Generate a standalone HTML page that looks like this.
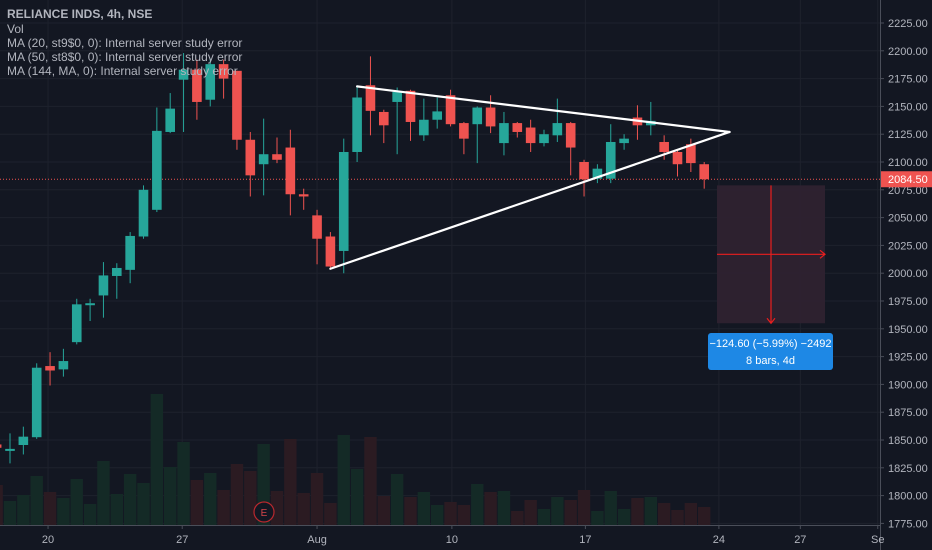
<!DOCTYPE html>
<html><head><meta charset="utf-8"><style>
html,body{margin:0;padding:0;background:#131722;}
svg{display:block;font-family:"Liberation Sans",sans-serif;}
</style></head><body>
<svg id="chart" width="932" height="550" viewBox="0 0 932 550" xmlns="http://www.w3.org/2000/svg">
<rect x="0" y="0" width="932" height="550" fill="#131722"/>
<g id="grid"></g>
<g id="vol"></g>
<g id="candles"></g>
<g id="draw"></g>
<g id="axes"></g>
<g font-size="12" fill="#b2b5be">
<text x="7" y="18" font-weight="bold">RELIANCE INDS, 4h, NSE</text>
<text x="7" y="33">Vol</text>
<text x="7" y="47">MA (20, st9$0, 0): Internal server study error</text>
<text x="7" y="61">MA (50, st8$0, 0): Internal server study error</text>
<text x="7" y="75">MA (144, MA, 0): Internal server study error</text>
</g>
</svg>
<script>
const opens  = [1846,1841,1845.5,1852.5,1916.5,1913.5,1938,1972,1980,1997.5,2003,2033,2057,2127,2174,2183,2156,2188,2182,2120,2098,2107,2113,2071,2052,2033,2020,2109,2169,2145,2154,2164,2124,2138,2160,2135,2134,2149,2117,2135,2131,2117,2124,2135,2100,2085,2085,2117,2140,2133,2118,2109,2116,2098];
const highs  = [1848,1856,1862,1919,1929,1932,1977,1977,2010,2009,2037,2079,2149,2162,2198,2192,2193,2192,2182,2127,2139,2122,2129,2076,2057,2037,2121,2168,2195,2147,2167,2165,2157,2158,2165,2136,2150,2160,2145,2136,2138,2129,2157,2136,2102,2098,2134,2125,2151,2154,2124,2110,2121,2100];
const lows   = [1840,1829,1837,1851,1899,1907,1936,1957,1960,1977,1991,2031,2055,2126,2127,2138,2150,2157,2111,2069,2070,2099,2052,2057,2008,2004,2000,2100,2124,2117,2107,2119,2119,2130,2132,2107,2099,2126,2106,2122,2109,2114,2118,2088,2069,2081,2081,2111,2120,2124,2102,2087,2091,2076];
const closes = [1843,1842,1853,1915,1912.5,1921,1972,1973,1998,2004.7,2033.5,2075,2128,2148,2183,2154,2188,2175,2120,2088,2107,2102,2071,2069,2031,2006,2109,2158,2146,2133,2163,2136,2138,2145.5,2134,2121,2149,2132,2135,2127,2117,2125,2135,2113,2084.5,2094,2118,2121,2133,2137,2109,2098,2099,2084.5];
const volumes = [40,24,30,49,33,27,46,21,64,31,51,42,131,58,83,45,52,35,61,54,81,34,86,32,52,22,90,56,88,29,51,28,33,20,23,20,41,33,34,14,25,16,28,25,35,14,34,16,27,28,22,15,22,18];
const priceTicks = [1775,1800,1825,1850,1875,1900,1925,1950,1975,2000,2025,2050,2075,2100,2125,2150,2175,2200,2225];
const dateLabels = ["20","27","Aug","10","17","24","27","Se"];
const datePos = [3.85,13.9,24,34.1,44.1,54.1,60.2,66];
const lastPrice = 2084.50;

const NS="http://www.w3.org/2000/svg";
const PW=880;
function py(p){return 162+(2100-p)*1.112;}
function bx(i){return -3.35+i*13.35;}
function vy(v){return 525-v;}
function mk(parent,tag,attrs){const e=document.createElementNS(NS,tag);for(const k in attrs)e.setAttribute(k,attrs[k]);parent.appendChild(e);return e;}
const grid=document.getElementById('grid'),vol=document.getElementById('vol'),cg=document.getElementById('candles'),dg=document.getElementById('draw'),ax=document.getElementById('axes');

priceTicks.forEach(t=>{
  const l=mk(grid,'line',{x1:0,x2:PW,y1:py(t),y2:py(t),stroke:'#1e222d','stroke-width':1});
  
  
});
datePos.forEach(d=>{
  const l=mk(grid,'line',{x1:bx(d),x2:bx(d),y1:0,y2:525,stroke:'#1e222d','stroke-width':1});
  
  
});

volumes.forEach((v,i)=>{
  const up=closes[i]>=opens[i];
  const r=mk(vol,'rect',{x:bx(i)-6.2,y:vy(v),width:12.4,height:v,fill:up?'#142a26':'#2b1b22'});
  
  
});

const pl=mk(grid,'line',{x1:0,x2:PW,y1:py(lastPrice),y2:py(lastPrice),stroke:'#ef5350','stroke-width':1,'stroke-dasharray':'1 2'});



opens.forEach((o,i)=>{
  const c=closes[i],up=c>=o,col=up?'#26a69a':'#ef5350',x=bx(i);
  const g=mk(cg,'g',{});
  
  
  mk(g,'line',{x1:x,x2:x,y1:py(highs[i]),y2:py(lows[i]),stroke:col,'stroke-width':1});
  const top=py(Math.max(o,c)),h=Math.max(2,Math.abs(py(o)-py(c)));
  mk(g,'rect',{x:x-4.8,y:top,width:9.6,height:h,fill:col});
});

const tlA=[[25,2004],[54.9,2127]],tlB=[[27,2168],[54.9,2127]];
[tlA,tlB].forEach((t,k)=>{
  const l=mk(dg,'line',{x1:bx(t[0][0]),y1:py(t[0][1]),x2:bx(t[1][0]),y2:py(t[1][1]),stroke:'#ffffff','stroke-width':2.2,'stroke-linecap':'round'});
  
  
});

const mx0=717,mx1=825,my0=py(2079),my1=py(1955),mcx=771,mcy=254.3;
const mb=mk(dg,'rect',{x:mx0,y:my0,width:mx1-mx0,height:my1-my0,fill:'#2e2230','fill-opacity':0.95});


const ma=mk(dg,'path',{d:`M${mcx} ${my0}V${my1}M${mcx-4} ${my1-5}L${mcx} ${my1}L${mcx+4} ${my1-5}M${mx0} ${mcy}H${mx1}M${mx1-5} ${mcy-4}L${mx1} ${mcy}L${mx1-5} ${mcy+4}`,stroke:'#e91e1e','stroke-width':1.2,fill:'none'});


const tip=mk(dg,'rect',{x:708,y:333,width:125,height:37,rx:3,fill:'#1e88e5'});


const t1=mk(dg,'text',{x:770.5,y:347,'text-anchor':'middle','font-size':11,fill:'#ffffff'});
t1.textContent='\u2212124.60 (\u22125.99%) \u22122492';


const t2=mk(dg,'text',{x:770.5,y:364,'text-anchor':'middle','font-size':11,fill:'#ffffff'});
t2.textContent='8 bars, 4d';



const eg=mk(dg,'g',{});


mk(eg,'circle',{cx:264,cy:512,r:10,fill:'#131722',stroke:'#b8282e','stroke-width':1.2});
const et=mk(eg,'text',{x:264,y:516,'text-anchor':'middle','font-size':10,fill:'#d6454a'});
et.textContent='E';

mk(ax,'rect',{x:PW,y:0,width:52,height:550,fill:'#131722'});
mk(ax,'rect',{x:0,y:525,width:PW,height:25,fill:'#131722'});
mk(ax,'line',{x1:PW+0.5,x2:PW+0.5,y1:0,y2:550,stroke:'#4a4e59','stroke-width':1});
mk(ax,'line',{x1:0,x2:PW,y1:525.5,y2:525.5,stroke:'#4a4e59','stroke-width':1});
priceTicks.forEach(t=>{
  mk(ax,'line',{x1:PW,x2:PW+4,y1:py(t),y2:py(t),stroke:'#4a4e59'});
  const tx=mk(ax,'text',{x:888,y:py(t)+4,'font-size':11,fill:'#b2b5be'});
  tx.textContent=t.toFixed(2);
  
  
});
dateLabels.forEach((d,k)=>{
  const x=bx(datePos[k]);
  mk(ax,'line',{x1:x,x2:x,y1:525,y2:529,stroke:'#4a4e59'});
  const tx=mk(ax,'text',{x:x,y:543,'text-anchor':'middle','font-size':11,fill:'#b2b5be'});
  tx.textContent=d;
  
  
});
const lb=mk(ax,'rect',{x:PW+1,y:py(lastPrice)-8,width:51,height:16,fill:'#ef5350'});


const lt=mk(ax,'text',{x:888,y:py(lastPrice)+4,'font-size':11,fill:'#ffffff'});
lt.textContent=lastPrice.toFixed(2);


</script>
</body></html>
